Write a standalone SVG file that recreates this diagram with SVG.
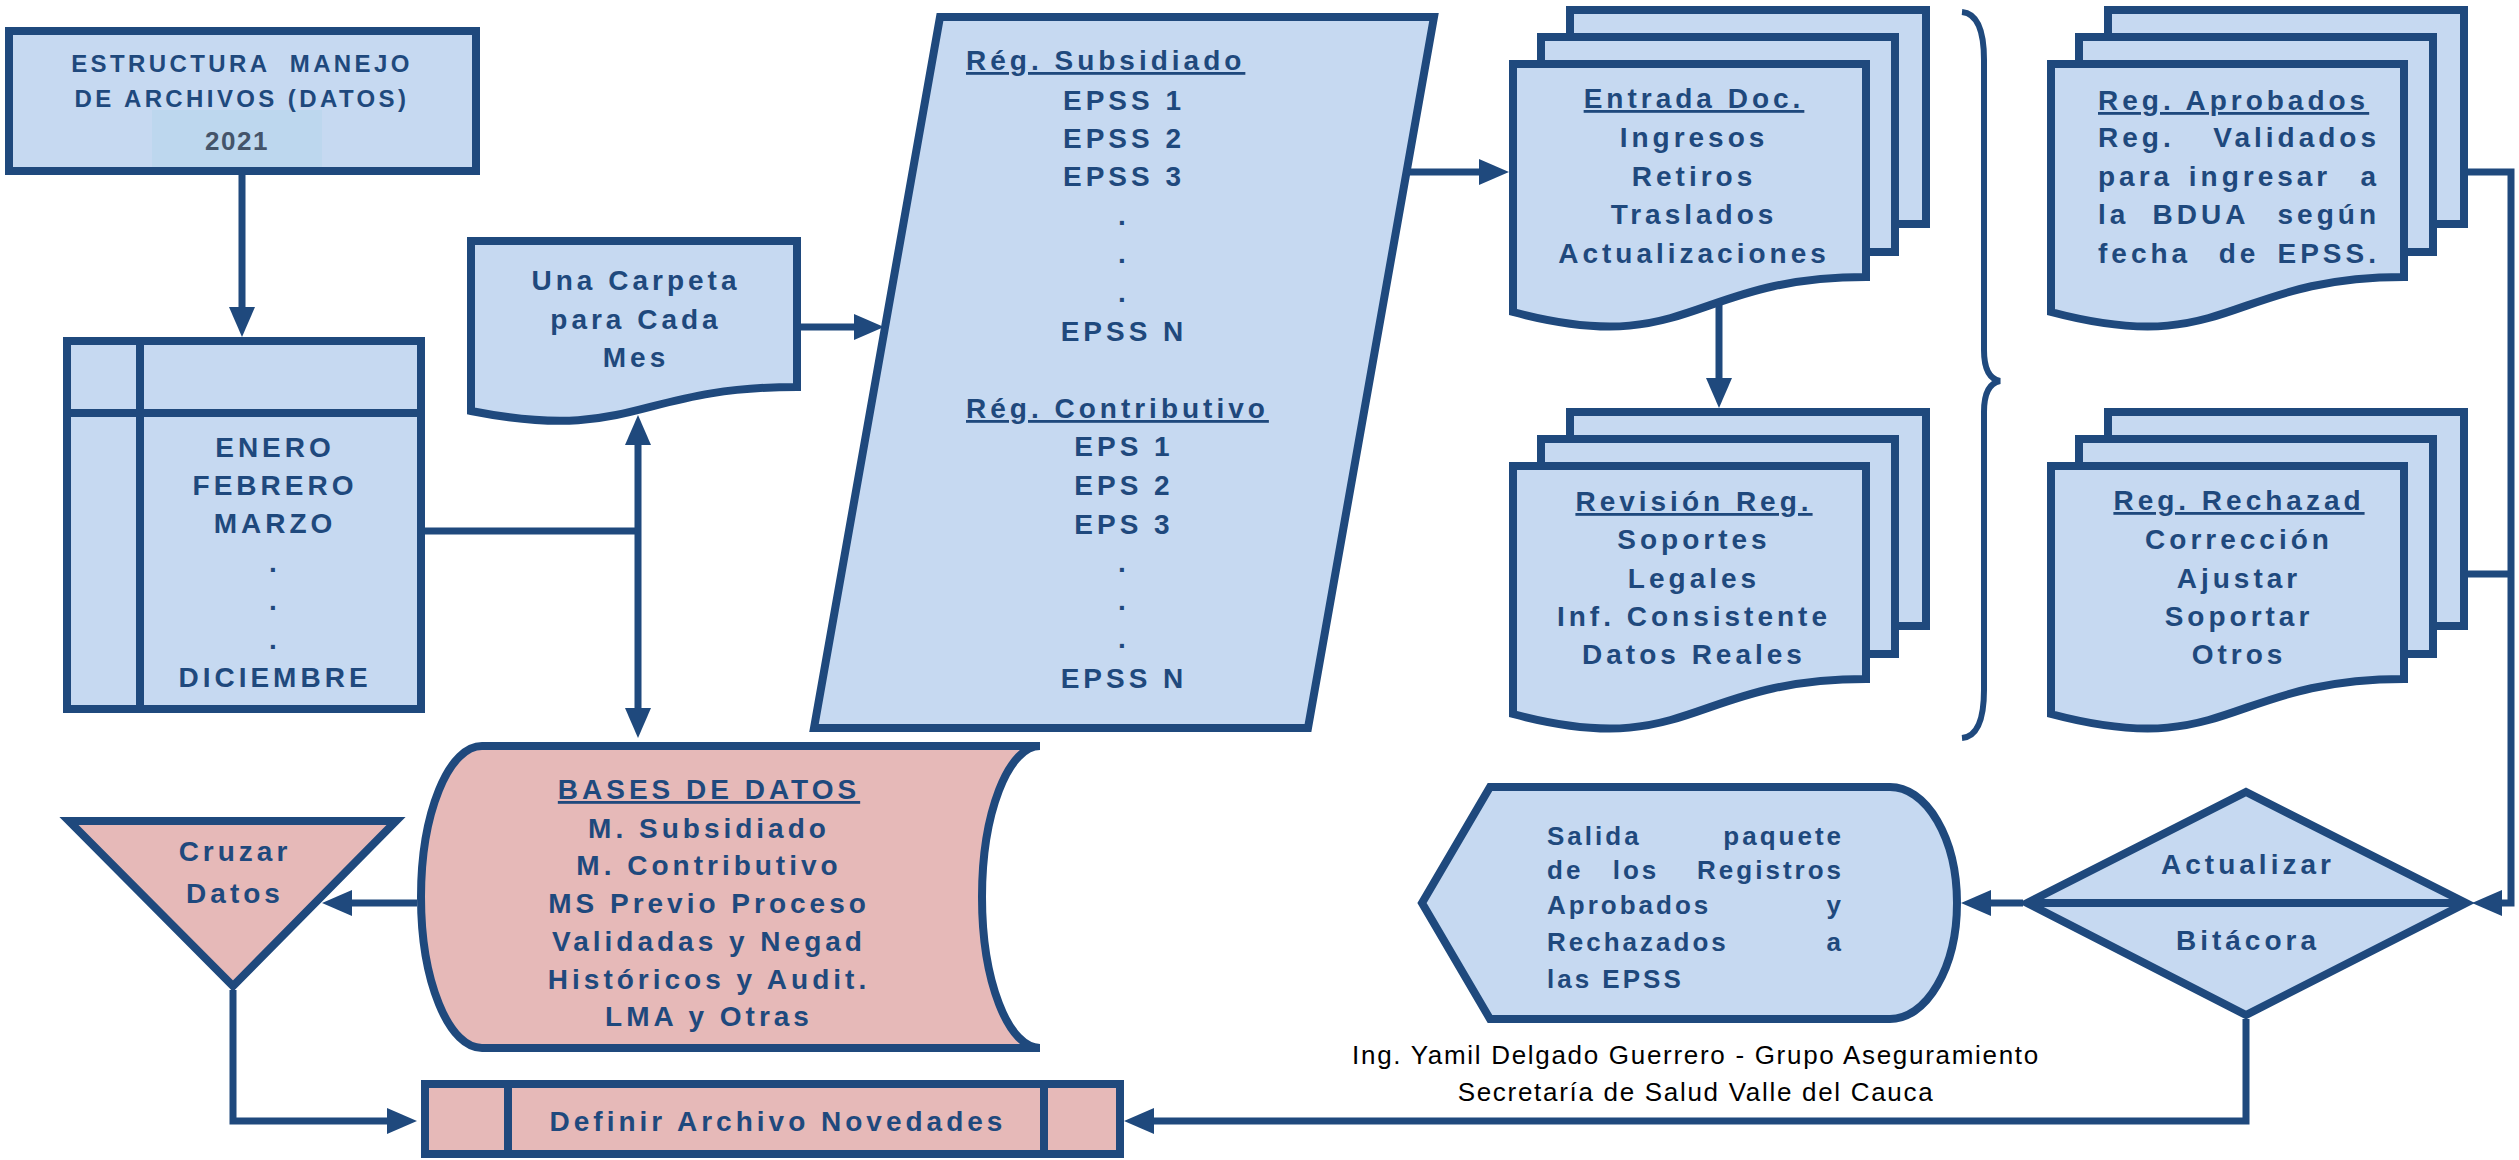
<svg xmlns="http://www.w3.org/2000/svg" width="2519" height="1160" viewBox="0 0 2519 1160">
<defs>
<style>
.b{fill:#C6D9F1;stroke:#1F497D;stroke-width:8}
.p{fill:#E6B9B8;stroke:#1F497D;stroke-width:8}
.c{fill:none;stroke:#1F497D;stroke-width:7}
.ln{stroke:#1F497D;stroke-width:8}
.t{font-family:"Liberation Sans",Arial,sans-serif;font-weight:bold;font-size:28px;letter-spacing:4px;fill:#1F497D;text-anchor:middle}
.s{font-size:24px;letter-spacing:3.4px}
.u{text-decoration:underline}
.l{text-anchor:start}
.r{text-anchor:end}
.f{font-family:"Liberation Sans",Arial,sans-serif;font-size:26px;letter-spacing:1.7px;fill:#000;text-anchor:middle}
</style>
<marker id="ah" markerUnits="userSpaceOnUse" markerWidth="30" markerHeight="26" refX="20" refY="13" orient="auto-start-reverse"><path d="M0,0 L30,13 L0,26 Z" fill="#1F497D"/></marker>
</defs>

<g id="connectors">
<path class="c" d="M242,171 L242,327" marker-end="url(#ah)"/>
<path class="c" d="M421,531 L638,531"/>
<path class="c" d="M638,425 L638,728" marker-start="url(#ah)" marker-end="url(#ah)"/>
<path class="c" d="M797,327 L874,327" marker-end="url(#ah)"/>
<path class="c" d="M1406,172 L1499,172" marker-end="url(#ah)"/>
<path class="c" d="M1719,303 L1719,398" marker-end="url(#ah)"/>
<path class="c" d="M2468,172 L2511,172 L2511,903 L2482,903" marker-end="url(#ah)"/>
<path class="c" d="M2468,574 L2511,574"/>
<path class="c" d="M2023,903 L1971,903" marker-end="url(#ah)"/>
<path class="c" d="M2246,1019 L2246,1121 L1134,1121" marker-end="url(#ah)"/>
<path class="c" d="M417,903 L332,903" marker-end="url(#ah)"/>
<path class="c" d="M233,990 L233,1121 L407,1121" marker-end="url(#ah)"/>
</g>

<g id="titulo">
<rect class="b" x="9" y="31" width="467" height="140"/>
<rect x="152" y="110" width="170" height="57" fill="#BDD7EE"/>
<text class="t s" x="242" y="72" xml:space="preserve">ESTRUCTURA  MANEJO</text>
<text class="t s" x="242" y="107">DE ARCHIVOS (DATOS)</text>
<text class="t" x="237" y="150" style="fill:#44546A;font-size:26px;letter-spacing:1.5px">2021</text>
</g>

<g id="meses">
<rect class="b" x="67" y="341" width="354" height="368"/>
<line class="ln" x1="140" y1="341" x2="140" y2="709"/>
<line class="ln" x1="67" y1="413" x2="421" y2="413"/>
<text class="t" x="275" y="457">ENERO</text>
<text class="t" x="275" y="495">FEBRERO</text>
<text class="t" x="275" y="533">MARZO</text>
<text class="t" x="275" y="572">.</text>
<text class="t" x="275" y="610">.</text>
<text class="t" x="275" y="649">.</text>
<text class="t" x="275" y="687">DICIEMBRE</text>
</g>

<g id="carpeta">
<path class="b" d="M471,241 L797,241 L797,387 C634,387 634,443 471,411 Z"/>
<text class="t" x="636" y="290">Una Carpeta</text>
<text class="t" x="636" y="329">para Cada</text>
<text class="t" x="636" y="367">Mes</text>
</g>

<g id="regimenes">
<polygon class="b" points="940,17 1434,17 1308,728 814,728"/>
<text class="t u l" x="966" y="70">Rég. Subsidiado</text>
<text class="t" x="1124" y="110">EPSS 1</text>
<text class="t" x="1124" y="148">EPSS 2</text>
<text class="t" x="1124" y="186">EPSS 3</text>
<text class="t" x="1124" y="225">.</text>
<text class="t" x="1124" y="263">.</text>
<text class="t" x="1124" y="302">.</text>
<text class="t" x="1124" y="341">EPSS N</text>
<text class="t u l" x="966" y="418">Rég. Contributivo</text>
<text class="t" x="1124" y="456">EPS 1</text>
<text class="t" x="1124" y="495">EPS 2</text>
<text class="t" x="1124" y="534">EPS 3</text>
<text class="t" x="1124" y="572">.</text>
<text class="t" x="1124" y="610">.</text>
<text class="t" x="1124" y="648">.</text>
<text class="t" x="1124" y="688">EPSS N</text>
</g>

<g id="entrada">
<rect class="b" x="1570" y="10" width="356" height="214"/>
<rect class="b" x="1541" y="37" width="354" height="215"/>
<path class="b" d="M1513,64 L1866,64 L1866,277 C1690,277 1690,359 1513,312 Z"/>
<text class="t u" x="1694" y="108">Entrada Doc.</text>
<text class="t" x="1694" y="147">Ingresos</text>
<text class="t" x="1694" y="186">Retiros</text>
<text class="t" x="1694" y="224">Traslados</text>
<text class="t" x="1694" y="263">Actualizaciones</text>
</g>

<g id="revision">
<rect class="b" x="1570" y="412" width="356" height="214"/>
<rect class="b" x="1541" y="439" width="354" height="215"/>
<path class="b" d="M1513,466 L1866,466 L1866,679 C1690,679 1690,761 1513,714 Z"/>
<text class="t u" x="1694" y="511">Revisión Reg.</text>
<text class="t" x="1694" y="549">Soportes</text>
<text class="t" x="1694" y="588">Legales</text>
<text class="t" x="1694" y="626">Inf. Consistente</text>
<text class="t" x="1694" y="664">Datos Reales</text>
</g>

<path id="llave" d="M1962,12 Q1984,14 1984,60 L1984,350 Q1984,378 2000,381 Q1984,384 1984,412 L1984,690 Q1984,736 1962,738" fill="none" stroke="#1F497D" stroke-width="6"/>

<g id="aprobados">
<rect class="b" x="2108" y="10" width="356" height="214"/>
<rect class="b" x="2079" y="37" width="354" height="215"/>
<path class="b" d="M2051,64 L2404,64 L2404,277 C2228,277 2228,359 2051,312 Z"/>
<text class="t u l" x="2098" y="110">Reg. Aprobados</text>
<text class="t" y="147"><tspan x="2098" style="text-anchor:start">Reg.</tspan><tspan x="2380" style="text-anchor:end">Validados</tspan></text>
<text class="t" y="186"><tspan x="2098" style="text-anchor:start">para</tspan><tspan x="2260">ingresar</tspan><tspan x="2380" style="text-anchor:end">a</tspan></text>
<text class="t" y="224"><tspan x="2098" style="text-anchor:start">la</tspan><tspan x="2201">BDUA</tspan><tspan x="2380" style="text-anchor:end">según</tspan></text>
<text class="t" y="263"><tspan x="2098" style="text-anchor:start">fecha</tspan><tspan x="2239">de</tspan><tspan x="2380" style="text-anchor:end">EPSS.</tspan></text>
</g>

<g id="rechazados">
<rect class="b" x="2108" y="412" width="356" height="214"/>
<rect class="b" x="2079" y="439" width="354" height="215"/>
<path class="b" d="M2051,466 L2404,466 L2404,679 C2228,679 2228,761 2051,714 Z"/>
<text class="t u" x="2239" y="510">Reg. Rechazad</text>
<text class="t" x="2239" y="549">Corrección</text>
<text class="t" x="2239" y="588">Ajustar</text>
<text class="t" x="2239" y="626">Soportar</text>
<text class="t" x="2239" y="664">Otros</text>
</g>

<g id="bitacora">
<polygon class="b" points="2027,903 2246,792 2466,903 2246,1015"/>
<line class="ln" x1="2027" y1="903" x2="2466" y2="903"/>
<text class="t" x="2248" y="874">Actualizar</text>
<text class="t" x="2248" y="950">Bitácora</text>
</g>

<g id="salida">
<path class="b" d="M1422,903 L1490,787 L1890,787 A67,116 0 0 1 1890,1019 L1490,1019 Z"/>
<text class="t" y="845" style="font-size:26px;letter-spacing:3px"><tspan x="1547" style="text-anchor:start">Salida</tspan><tspan x="1844" style="text-anchor:end">paquete</tspan></text>
<text class="t" y="879" style="font-size:26px;letter-spacing:3px"><tspan x="1547" style="text-anchor:start">de</tspan><tspan x="1636">los</tspan><tspan x="1844" style="text-anchor:end">Registros</tspan></text>
<text class="t" y="914" style="font-size:26px;letter-spacing:3px"><tspan x="1547" style="text-anchor:start">Aprobados</tspan><tspan x="1844" style="text-anchor:end">y</tspan></text>
<text class="t" y="951" style="font-size:26px;letter-spacing:3px"><tspan x="1547" style="text-anchor:start">Rechazados</tspan><tspan x="1844" style="text-anchor:end">a</tspan></text>
<text class="t l" x="1547" y="988" style="font-size:26px;letter-spacing:3px">las EPSS</text>
</g>

<g id="bases">
<path class="p" d="M482,746 L1040,746 A58,151 0 0 0 1040,1048 L482,1048 A61,151 0 0 1 482,746 Z"/>
<text class="t u" x="709" y="799">BASES DE DATOS</text>
<text class="t" x="709" y="838">M. Subsidiado</text>
<text class="t" x="709" y="875">M. Contributivo</text>
<text class="t" x="709" y="913">MS Previo Proceso</text>
<text class="t" x="709" y="951">Validadas y Negad</text>
<text class="t" x="709" y="989">Históricos y Audit.</text>
<text class="t" x="709" y="1026">LMA y Otras</text>
</g>

<g id="cruzar">
<polygon class="p" points="69,821 396,821 233,986"/>
<text class="t" x="235" y="861">Cruzar</text>
<text class="t" x="235" y="903">Datos</text>
</g>

<g id="novedades">
<rect class="p" x="425" y="1084" width="695" height="70"/>
<line class="ln" x1="508" y1="1084" x2="508" y2="1154"/>
<line class="ln" x1="1044" y1="1084" x2="1044" y2="1154"/>
<text class="t" x="778" y="1131">Definir Archivo Novedades</text>
</g>

<g id="autor">
<text class="f" x="1696" y="1064">Ing. Yamil Delgado Guerrero - Grupo Aseguramiento</text>
<text class="f" x="1696" y="1101">Secretaría de Salud Valle del Cauca</text>
</g>
</svg>
